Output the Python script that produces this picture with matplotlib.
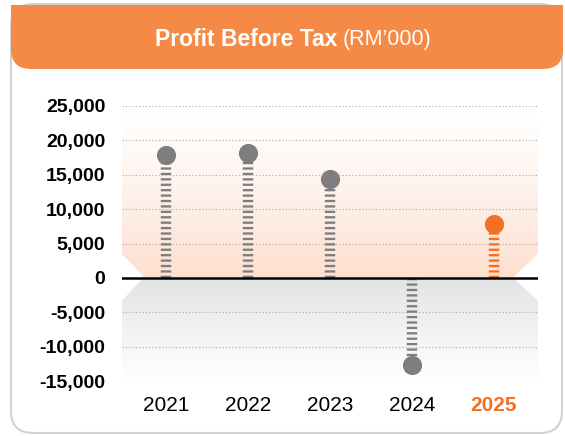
import numpy as np
import matplotlib
matplotlib.use("Agg")
import matplotlib.pyplot as plt
from matplotlib.patches import FancyBboxPatch, Rectangle, Polygon
from matplotlib.colors import LinearSegmentedColormap

years = ["2021", "2022", "2023", "2024", "2025"]
profit = [17900, 18150, 14400, -12650, 7850]
yticks = [-15000, -10000, -5000, 0, 5000, 10000, 15000, 20000, 25000]

grey = "#7e7e80"
orange = "#f37021"
header = "#f58a47"

plt.rcParams["font.family"] = ["Liberation Sans", "DejaVu Sans"]

W, H = 565, 436
fig = plt.figure(figsize=(W / 100, H / 100), dpi=100)

# card frame + header (pixel coords via a full-figure axes)
bg = fig.add_axes([0, 0, 1, 1])
bg.set_xlim(0, W)
bg.set_ylim(H, 0)
bg.axis("off")
bg.add_patch(FancyBboxPatch((11, 4), 551, 429, boxstyle="round,pad=0,rounding_size=22",
                            fc="white", ec="#d2d2d2", lw=1.5))
bg.add_patch(FancyBboxPatch((11, 5), 552, 64, boxstyle="round,pad=0,rounding_size=20",
                            fc=header, ec="none"))
bg.add_patch(Rectangle((11, 5), 552, 30, fc=header, ec="none"))
bg.text(337, 40, "Profit Before Tax", color="white", fontsize=16.5, fontweight="bold",
        ha="right", va="center")
bg.text(343, 40, "(RM\u2019000)", color="white", fontsize=15.5, ha="left", va="center")

ax = fig.add_axes([122 / W, (H - 381) / H, 416 / W, 275 / H])
ax.patch.set_alpha(0)
x = np.arange(len(years))

# shaded panels
pos_cmap = LinearSegmentedColormap.from_list("p", ["#fde0cf", "#fef1ea", "#ffffff"])
neg_cmap = LinearSegmentedColormap.from_list("n", ["#e2e3e5", "#f2f2f3", "#ffffff"])
grad = np.linspace(0, 1, 256).reshape(-1, 1)
pos_poly = Polygon([(-0.537, 23300), (4.537, 23300), (4.537, 3500), (4.23, 0),
                    (-0.26, 0), (-0.537, 3500)], closed=True, fc="none", ec="none")
neg_poly = Polygon([(-0.28, 0), (4.23, 0), (4.537, -3300), (4.537, -15000),
                    (-0.537, -15000), (-0.537, -3300)], closed=True, fc="none", ec="none")
ax.add_patch(pos_poly)
ax.add_patch(neg_poly)
im1 = ax.imshow(grad, cmap=pos_cmap, extent=(-0.537, 4.537, 0, 23300), origin="lower",
                aspect="auto", zorder=0)
im1.set_clip_path(pos_poly)
im2 = ax.imshow(grad[::-1], cmap=neg_cmap, extent=(-0.537, 4.537, -15000, 0), origin="lower",
                aspect="auto", zorder=0)
im2.set_clip_path(neg_poly)
ax.set_xlim(-0.537, 4.537)
ax.set_ylim(-15000, 25000)

for t in yticks:
    if t != 0:
        ax.axhline(t, color="#a8a8a8", lw=0.8, ls=(0, (1, 2)), zorder=1)
ax.axhline(0, color="black", lw=1.8, zorder=3)

for i, v in enumerate(profit):
    c = orange if i == len(years) - 1 else grey
    ax.vlines(x[i], 0, v, colors=c, lw=7.5, linestyles=(0, (0.22, 0.3)), zorder=2,
              capstyle="butt")
    ax.plot(x[i], v, "o", ms=13.8, color=c, mec="none", zorder=4)

ax.set_yticks(yticks)
ax.set_yticklabels([f"{t:,}" for t in yticks], fontsize=14, fontweight="bold")
ax.set_xticks(x)
ax.set_xticklabels(years, fontsize=15)
lbl = ax.get_xticklabels()[-1]
lbl.set_color(orange)
lbl.set_fontweight("bold")
ax.tick_params(length=0)
ax.tick_params(axis="y", pad=12)
ax.tick_params(axis="x", pad=11)
for s in ax.spines.values():
    s.set_visible(False)

fig.savefig("out.png", dpi=100)
